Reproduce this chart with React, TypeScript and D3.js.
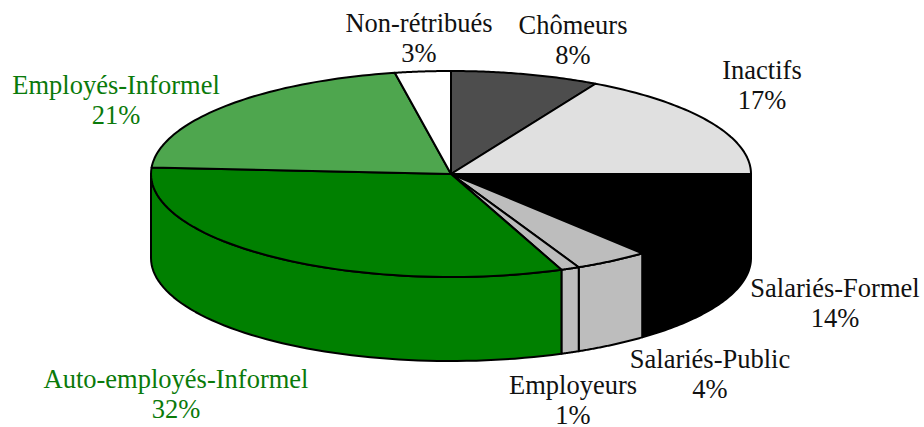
import React from "react";
import * as d3 from "d3";

const categories = ["Chômeurs", "Inactifs", "Salariés-Formel", "Salariés-Public", "Employeurs", "Auto-employés-Informel", "Employés-Informel", "Non-rétribués"];
const values = [8, 17, 14, 4, 1, 32, 21, 3];
const topColors = ["#4d4d4d", "#e0e0e0", "#000000", "#bdbdbd", "#bdbdbd", "#008000", "#4ea64e", "#ffffff"];
const sideColors = ["#4d4d4d", "#e0e0e0", "#000000", "#bdbdbd", "#bdbdbd", "#008000", "#4ea64e", "#ffffff"];
const labelColors = ["#111", "#111", "#111", "#111", "#111", "#0a7a0a", "#0a7a0a", "#111"];
const labelPos: [number, number][] = [[573, 34], [762, 79], [835, 297], [710, 368], [573, 394], [176, 388], [116, 94], [419, 32]];

const cx = 451, cy = 174, rx = 300, ry = 103, depth = 84;

const arcs = d3.pie<number>().sort(null)(values);
const pt = (a: number, dy = 0): [number, number] => [cx + rx * Math.sin(a), cy - ry * Math.cos(a) + dy];
const samples = (a0: number, a1: number) => d3.range(0, 61).map((i) => a0 + ((a1 - a0) * i) / 60);
const line = d3.line();

function topPath(a0: number, a1: number) {
  return line([[cx, cy], ...samples(a0, a1).map((a) => pt(a))])! + "Z";
}
function sidePath(a0: number, a1: number) {
  const s = Math.max(a0, Math.PI / 2), e = Math.min(a1, (3 * Math.PI) / 2);
  if (s >= e) return null;
  const as = samples(s, e);
  return line([...as.map((a) => pt(a)), ...[...as].reverse().map((a) => pt(a, depth))])! + "Z";
}

export default function App() {
  return (
    <svg width={924} height={427} style={{ position: "absolute", left: 0, top: 0, background: "#fff" }}>
      {arcs.map((d, i) => {
        const p = sidePath(d.startAngle, d.endAngle);
        return p ? <path key={i} d={p} fill={sideColors[i]} stroke="#000" strokeWidth={2} strokeLinejoin="round" /> : null;
      })}
      {arcs.map((d, i) => (
        <path key={i} d={topPath(d.startAngle, d.endAngle)} fill={topColors[i]} stroke="#000" strokeWidth={2} strokeLinejoin="round" />
      ))}
      {categories.map((c, i) => (
        <text key={c} x={labelPos[i][0]} y={labelPos[i][1]} fill={labelColors[i]} textAnchor="middle" fontFamily="'Liberation Serif', serif" fontSize={26.5}>
          <tspan x={labelPos[i][0]}>{c}</tspan>
          <tspan x={labelPos[i][0]} dy={30}>{values[i]}%</tspan>
        </text>
      ))}
    </svg>
  );
}
